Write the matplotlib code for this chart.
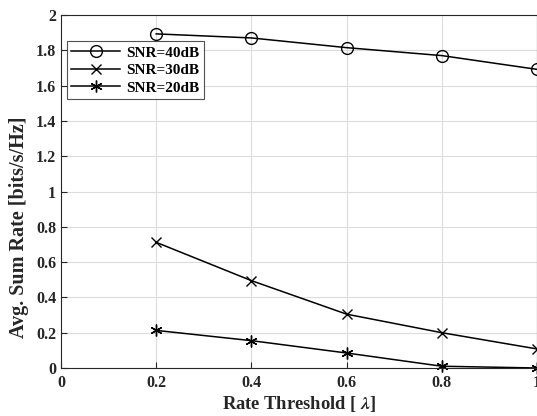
import matplotlib
matplotlib.use("Agg")
import matplotlib.pyplot as plt

plt.rcParams['font.family'] = ['Liberation Serif', 'DejaVu Serif']
plt.rcParams['font.weight'] = 'bold'
plt.rcParams['mathtext.fontset'] = 'stix'

thresholds = [0.2, 0.4, 0.6, 0.8, 1.0]
snr40 = [1.893, 1.870, 1.815, 1.770, 1.692]
snr30 = [0.712, 0.495, 0.305, 0.200, 0.108]
snr20 = [0.213, 0.155, 0.085, 0.010, 0.000]
labels = ['SNR=40dB', 'SNR=30dB', 'SNR=20dB']
xticks = [0, 0.2, 0.4, 0.6, 0.8, 1]
xticklabels = ['0', '0.2', '0.4', '0.6', '0.8', '1']
yticks = [0, 0.2, 0.4, 0.6, 0.8, 1, 1.2, 1.4, 1.6, 1.8, 2]
yticklabels = ['0', '0.2', '0.4', '0.6', '0.8', '1', '1.2', '1.4', '1.6', '1.8', '2']

fig = plt.figure(figsize=(5.37, 4.16), dpi=100)
ax = fig.add_axes([61/537, 48/416, 476/537, 353/416])

ax.plot(thresholds, snr40, color='black', lw=1.1, marker='o', ms=8.5,
        mfc='none', mec='black', mew=1.0, label=labels[0], clip_on=False)
ax.plot(thresholds, snr30, color='black', lw=1.1, marker='x', ms=6.5,
        mew=1.0, label=labels[1], clip_on=False)
ax.plot(thresholds, snr20, color='black', lw=1.1, marker=(6, 2, 0), ms=8.5,
        mew=1.0, label=labels[2], clip_on=False)

ax.set_xlim(0, 1)
ax.set_ylim(0, 2)
ax.set_xticks(xticks)
ax.set_xticklabels(xticklabels)
ax.set_yticks(yticks)
ax.set_yticklabels(yticklabels)
ax.tick_params(direction='in', length=4, width=0.8, labelsize=11.5, colors='#262626',
               top=False, right=False)
ax.tick_params(axis='x', pad=5)
for lab in ax.get_xticklabels() + ax.get_yticklabels():
    lab.set_fontweight('bold')
ax.grid(True, color='#dcdcdc', lw=0.8)
ax.set_axisbelow(True)
for s in ax.spines.values():
    s.set_color('#262626')
    s.set_linewidth(0.8)

ax.set_xlabel(r'Rate Threshold [ $\mathbfit{\lambda}$]', fontsize=13.3, fontweight='bold',
              color='#262626', labelpad=2)
ax.set_ylabel('Avg. Sum Rate [bits/s/Hz]', fontsize=14.5, fontweight='bold',
              color='#262626')
ax.yaxis.set_label_coords(-0.068, 0.40)

leg = ax.legend(loc='upper left', bbox_to_anchor=(0.012, 0.925), fontsize=11,
                frameon=True, fancybox=False, edgecolor='#262626', handlelength=3.2,
                borderpad=0.3, labelspacing=0.25, handletextpad=0.4, borderaxespad=0)
leg.get_frame().set_linewidth(0.8)
for t in leg.get_texts():
    t.set_fontweight('bold')

fig.savefig('out.png', dpi=100)
